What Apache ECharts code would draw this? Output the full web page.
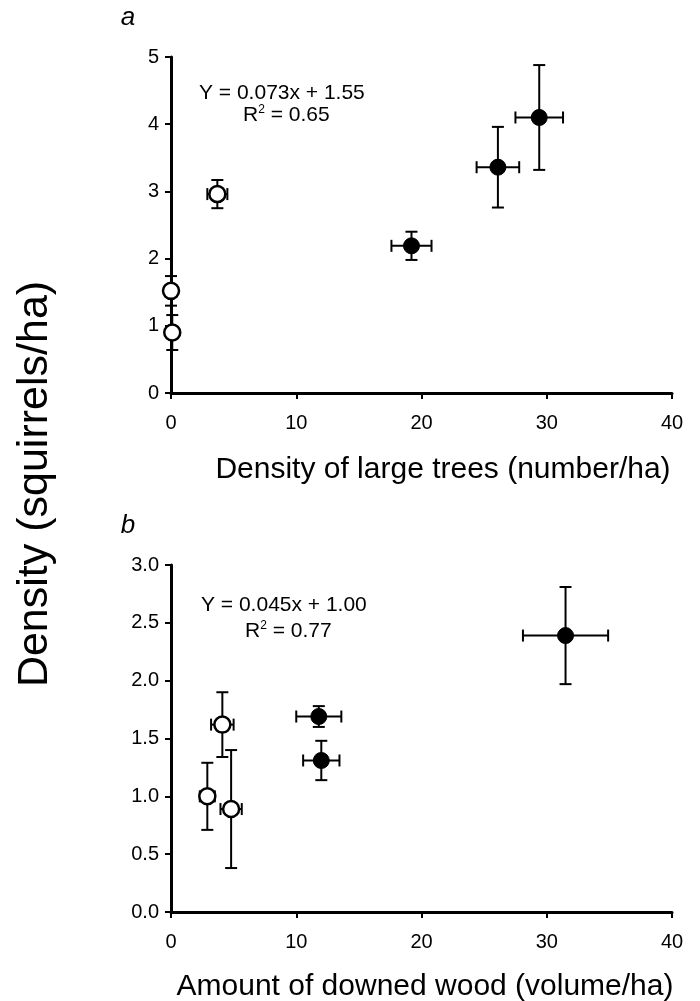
<!DOCTYPE html>
<html>
<head>
<meta charset="utf-8">
<script src="https://cdn.jsdelivr.net/npm/echarts@6/dist/echarts.min.js"></script>
<style>
  html, body { margin: 0; padding: 0; background: #fff; }
  #chart { width: 700px; height: 1001px; }
</style>
</head>
<body>
<div id="chart"></div>
<script>
// panel a: large trees vs squirrels
var treesX = [0.0, 0.1, 3.7, 19.2, 26.1, 29.4]
var treesY = [1.52, 0.90, 2.96, 2.19, 3.36, 4.10]
var treesXErr = [0, 0, 0.8, 1.6, 1.7, 1.9]
var treesYErr = [0.22, 0.26, 0.21, 0.21, 0.60, 0.78]
var treesOpen = [true, true, true, false, false, false]

// panel b: downed wood vs squirrels
var woodX = [2.9, 4.1, 4.8, 11.8, 12.0, 31.5]
var woodY = [1.00, 1.62, 0.89, 1.69, 1.31, 2.39]
var woodXErr = [0.6, 0.9, 0.85, 1.8, 1.45, 3.4]
var woodYErr = [0.29, 0.28, 0.51, 0.09, 0.17, 0.42]
var woodOpen = [true, true, true, false, false, false]

var xTicksA = [0, 10, 20, 30, 40]
var yTicksA = [0, 1, 2, 3, 4, 5]
var xTicksB = [0, 10, 20, 30, 40]
var yTicksB = [0, 0.5, 1, 1.5, 2, 2.5, 3]

var FONT = '"Liberation Sans", Arial, Helvetica, sans-serif'

function rows(xs, ys, xe, ye) {
  return xs.map(function (x, i) { return [x, ys[i], xe[i], ye[i]] })
}
function pick(xs, ys, flags, want) {
  var out = []
  xs.forEach(function (x, i) { if (flags[i] === want) out.push([x, ys[i]]) })
  return out
}

var CAP = 6
function errorBars(params, api) {
  var x = api.value(0), y = api.value(1), dx = api.value(2), dy = api.value(3)
  var top = api.coord([x, y + dy]), bot = api.coord([x, y - dy])
  var lft = api.coord([x - dx, y]), rgt = api.coord([x + dx, y])
  var st = { stroke: '#000', lineWidth: 2 }
  var kids = []
  function seg(x1, y1, x2, y2) {
    kids.push({ type: 'line', shape: { x1: x1, y1: y1, x2: x2, y2: y2 }, style: st })
  }
  if (dy > 0) {
    seg(top[0], top[1], bot[0], bot[1])
    seg(top[0] - CAP, top[1], top[0] + CAP, top[1])
    seg(bot[0] - CAP, bot[1], bot[0] + CAP, bot[1])
  }
  if (dx > 0) {
    seg(lft[0], lft[1], rgt[0], rgt[1])
    seg(lft[0], lft[1] - CAP, lft[0], lft[1] + CAP)
    seg(rgt[0], rgt[1] - CAP, rgt[0], rgt[1] + CAP)
  }
  return { type: 'group', children: kids }
}

function xAxisOf(idx, ticks) {
  return {
    gridIndex: idx, type: 'value',
    min: ticks[0], max: ticks[ticks.length - 1], interval: ticks[1] - ticks[0],
    splitLine: { show: false },
    axisLine: { onZero: false, lineStyle: { color: '#000', width: 3 } },
    axisTick: { length: 6, lineStyle: { color: '#000', width: 2 } },
    axisLabel: { color: '#000', fontSize: 20, fontFamily: FONT, margin: 20 }
  }
}
function yAxisOf(idx, ticks, dec) {
  return {
    gridIndex: idx, type: 'value',
    min: ticks[0], max: ticks[ticks.length - 1], interval: ticks[1] - ticks[0],
    splitLine: { show: false },
    axisLine: { onZero: false, lineStyle: { color: '#000', width: 3 } },
    axisTick: { length: 6, lineStyle: { color: '#000', width: 2 } },
    axisLabel: {
      color: '#000', fontSize: 20, fontFamily: FONT, margin: 12,
      formatter: function (v) { return v.toFixed(dec) }
    }
  }
}

function markers(idx, data, open) {
  return {
    type: 'scatter', xAxisIndex: idx, yAxisIndex: idx, z: 5,
    symbolSize: 16, data: data,
    itemStyle: open
      ? { color: '#fff', borderColor: '#000', borderWidth: 2.5, opacity: 1 }
      : { color: '#000', borderColor: '#000', borderWidth: 1, opacity: 1 }
  }
}

function label(text, x, y, font, extra) {
  var s = { text: text, fill: '#000', font: font, textAlign: 'center', textVerticalAlign: 'middle' }
  Object.assign(s, extra || {})
  return { type: 'text', x: x, y: y, style: s, z: 10 }
}
function rsq(text, x, y) {
  return {
    type: 'text', x: x, y: y, z: 10,
    style: {
      text: '{n|R}{s|2}{n| = ' + text + '}',
      rich: {
        n: { fontSize: 21, fontFamily: FONT, fill: '#000' },
        s: { fontSize: 12, fontFamily: FONT, fill: '#000', verticalAlign: 'top', padding: [0, 0, 10, 0] }
      }
    }
  }
}

var chart = echarts.init(document.getElementById('chart'), null, { renderer: 'canvas' })
chart.setOption({
  animation: false,
  backgroundColor: '#fff',
  grid: [
    { left: 171, right: 28, top: 57, height: 336 },
    { left: 171, right: 28, top: 565, height: 347 }
  ],
  xAxis: [xAxisOf(0, xTicksA), xAxisOf(1, xTicksB)],
  yAxis: [yAxisOf(0, yTicksA, 0), yAxisOf(1, yTicksB, 1)],
  series: [
    { type: 'custom', xAxisIndex: 0, yAxisIndex: 0, z: 3, renderItem: errorBars,
      data: rows(treesX, treesY, treesXErr, treesYErr) },
    markers(0, pick(treesX, treesY, treesOpen, true), true),
    markers(0, pick(treesX, treesY, treesOpen, false), false),
    { type: 'custom', xAxisIndex: 1, yAxisIndex: 1, z: 3, renderItem: errorBars,
      data: rows(woodX, woodY, woodXErr, woodYErr) },
    markers(1, pick(woodX, woodY, woodOpen, true), true),
    markers(1, pick(woodX, woodY, woodOpen, false), false)
  ],
  graphic: [
    label('a', 128, 18, 'italic 26px ' + FONT),
    label('b', 128, 526, 'italic 26px ' + FONT),
    label('Y = 0.073x + 1.55', 199, 93, '21px ' + FONT, { textAlign: 'left' }),
    rsq('0.65', 243, 104),
    label('Y = 0.045x + 1.00', 201, 605, '21px ' + FONT, { textAlign: 'left' }),
    rsq('0.77', 245, 620),
    label('Density of large trees (number/ha)', 443, 470, '30px ' + FONT),
    label('Amount of downed wood (volume/ha)', 425, 987, '30px ' + FONT),
    { type: 'text', x: 35, y: 484, rotation: Math.PI / 2, z: 10,
      style: { text: 'Density (squirrels/ha)', fill: '#000', font: '43px ' + FONT,
        textAlign: 'center', textVerticalAlign: 'middle' } }
  ]
})
</script>
</body>
</html>
